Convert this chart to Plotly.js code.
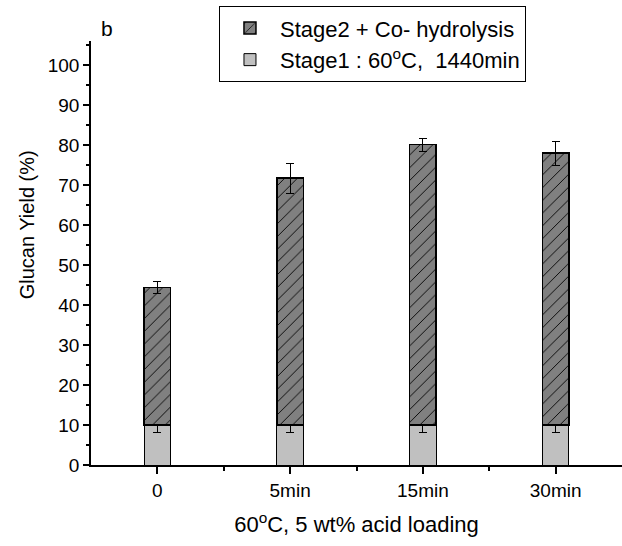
<!DOCTYPE html>
<html>
<head>
<meta charset="utf-8">
<script src="https://cdn.plot.ly/plotly-3.0.1.min.js"></script>
<style>html,body{margin:0;padding:0;background:#fff;}#chart{width:622px;height:546px;}</style>
</head>
<body>
<div id="chart"></div>
<script>
// Categories (x axis)
const categories = ["0", "5min", "15min", "30min"];
// Stage 1 yield (%) and its error
const stage1 = [10, 10, 10, 10];
const stage1Err = [1.8, 1.8, 1.8, 1.8];
// Stage 2 + co-hydrolysis increment (%) on top of stage 1, and error on the total
const stage2 = [34.4, 61.7, 70.1, 68.0];
const stage2Err = [1.5, 3.7, 1.6, 3.0];
// Legend names
const seriesNames = ["Stage1 : 60<sup>o</sup>C,&nbsp; 1440min", "Stage2 + Co- hydrolysis"];
// Y ticks
const yTicks = [0, 10, 20, 30, 40, 50, 60, 70, 80, 90, 100];

const xIdx = categories.map((c, i) => i);
const FONT = "Liberation Sans, Arial, sans-serif";

const traces = [
  {
    type: "bar", x: xIdx, y: stage1, name: seriesNames[0], width: 0.2,
    marker: {color: "#c0c0c0", line: {color: "#000", width: 1}},
    error_y: {type: "data", array: stage1Err, visible: true, color: "#000", thickness: 1, width: 4}
  },
  {
    type: "bar", x: xIdx, y: stage2, name: seriesNames[1], width: 0.2,
    marker: {color: "#808080", line: {color: "#000", width: 1.5},
      pattern: {shape: "/", fgcolor: "#000", bgcolor: "#808080", size: 9, solidity: 0.1, fillmode: "replace"}},
    error_y: {type: "data", array: stage2Err, visible: true, color: "#000", thickness: 1, width: 4}
  }
];

const layout = {
  width: 622, height: 546,
  margin: {l: 91, r: 0, t: 41, b: 81},
  paper_bgcolor: "#fff", plot_bgcolor: "#fff",
  barmode: "stack",
  font: {family: FONT, color: "#000", size: 19},
  showlegend: true,
  legend: {
    x: 0.241, y: 1.082, xanchor: "left", yanchor: "top",
    bordercolor: "#000", borderwidth: 1, bgcolor: "#fff",
    traceorder: "reversed", font: {family: FONT, size: 22, color: "#000"},
    itemwidth: 50, tracegroupgap: 0
  },
  xaxis: {
    type: "linear", range: [-0.5, 3.5],
    tickmode: "array", tickvals: xIdx, ticktext: categories,
    ticks: "outside", ticklen: 7, tickwidth: 1.5, tickcolor: "#000",
    minor: {tickmode: "array", tickvals: [0.5, 1.5, 2.5], ticks: "outside", ticklen: 4, tickwidth: 1.5, tickcolor: "#000"},
    showline: true, linecolor: "#000", linewidth: 1.5,
    showgrid: false, zeroline: false,
    tickfont: {family: FONT, size: 19, color: "#000"},
    title: {text: "60<sup>o</sup>C, 5 wt% acid loading", font: {family: FONT, size: 22, color: "#000"}, standoff: 17}
  },
  yaxis: {
    range: [0, 106],
    tickmode: "array", tickvals: yTicks,
    ticks: "outside", ticklen: 6, tickwidth: 1.5, tickcolor: "#000",
    minor: {dtick: 5, tick0: 0, ticks: "outside", ticklen: 3.5, tickwidth: 1.5, tickcolor: "#000"},
    showline: true, linecolor: "#000", linewidth: 1.5,
    showgrid: false, zeroline: false,
    tickfont: {family: FONT, size: 19, color: "#000"}
  },
  annotations: [
    {xref: "paper", yref: "paper", x: 0.03, y: 1.03, xanchor: "center", yanchor: "middle",
     text: "b", showarrow: false, font: {family: FONT, size: 21, color: "#000"}},
    {xref: "paper", yref: "paper", x: -0.12, y: 0.566, xanchor: "center", yanchor: "middle",
     textangle: -90, text: "Glucan Yield (%)", showarrow: false, font: {family: FONT, size: 20, color: "#000"}}
  ]
};

Plotly.newPlot("chart", traces, layout, {displayModeBar: false, responsive: false});
</script>
</body>
</html>
